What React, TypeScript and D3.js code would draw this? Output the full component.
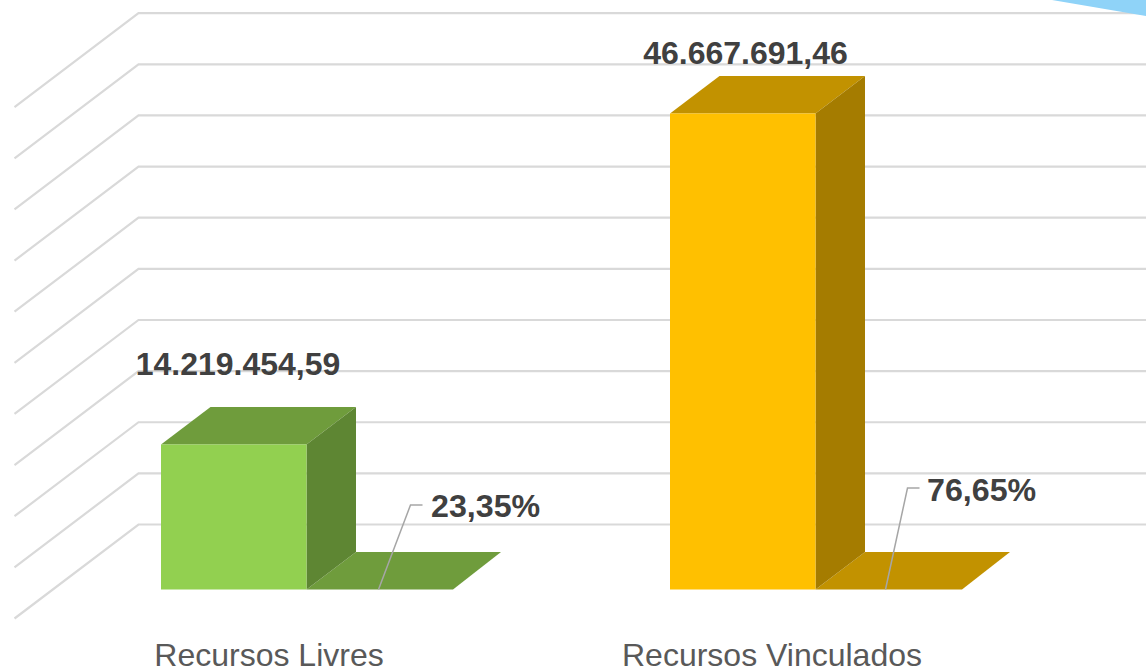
import React from "react";
import * as d3 from "d3";

const categories = ["Recursos Livres", "Recursos Vinculados"];
const values = [14219454.59, 46667691.46];
const valueLabels = ["14.219.454,59", "46.667.691,46"];
const percentLabels = ["23,35%", "76,65%"];
const frontColors = ["#92d050", "#ffc000"];
const topColors = ["#6f9c3c", "#c29200"];
const sideColors = ["#5e8633", "#a57c00"];
const gridLevels = d3.range(0, 11);

const W = 1146, H = 669;
const y = d3.scaleLinear().domain([0, 46667691.46]).range([589.5, 113.5]);
const gridY = d3.scaleLinear().domain([0, 10]).range([524.5, 13.2]);
const x = d3.scalePoint<number>().domain([0, 1]).range([161, 670]);
const poly = d3.line<[number, number]>();

const barW = 145.5, dx = 49.5, dy = 37.5;
const gridDx = 124, gridDy = 94, gridX = 138.5;

export default function App() {
  return (
    <svg width={W} height={H} viewBox={`0 0 ${W} ${H}`} style={{ position: "absolute", left: 0, top: 0, background: "#fff" }}>
      {gridLevels.map((g) => (
        <path key={g} fill="none" stroke="#d9d9d9" strokeWidth={2.2}
          d={poly([[gridX - gridDx, gridY(g) + gridDy], [gridX, gridY(g)], [W, gridY(g)]]) as string} />
      ))}
      <path d="M1052,0L1146,0L1146,16Z" fill="#8fd3f8" />
      {categories.map((c, i) => {
        const x0 = x(i) as number, x1 = x0 + barW;
        const y0 = y(0), yv = y(values[i]);
        const floorW = 145;
        const lead = i === 0
          ? [[x1 + 72, y0], [x1 + 104, 505], [x1 + 116, 505]] as [number, number][]
          : [[x1 + 70, y0], [x1 + 92, 488], [x1 + 104, 488]] as [number, number][];
        return (
          <g key={c}>
            <path fill={topColors[i]} d={poly([[x1, y0], [x1 + dx, y0 - dy], [x1 + dx + floorW, y0 - dy], [x1 + floorW + 1.5, y0]]) + "Z"} />
            <path fill={topColors[i]} d={poly([[x0, yv], [x0 + dx, yv - dy], [x1 + dx, yv - dy], [x1, yv]]) + "Z"} />
            <path fill={sideColors[i]} d={poly([[x1, yv], [x1 + dx, yv - dy], [x1 + dx, y0 - dy], [x1, y0]]) + "Z"} />
            <rect x={x0} y={yv} width={barW} height={y0 - yv} fill={frontColors[i]} />
            <path fill="none" stroke="#a6a6a6" strokeWidth={1.5} d={poly(lead) as string} />
            <text x={i === 0 ? 238 : 745.5} y={i === 0 ? 375 : 64} textAnchor="middle" fontFamily="Liberation Sans" fontWeight="700" fontSize={32} fill="#404040">{valueLabels[i]}</text>
            <text x={i === 0 ? 431 : 927} y={i === 0 ? 517 : 501} fontFamily="Liberation Sans" fontWeight="700" fontSize={32.2} fill="#404040">{percentLabels[i]}</text>
            <text x={i === 0 ? 269 : 772} y={665.5} textAnchor="middle" fontFamily="Liberation Sans" fontSize={32} fill="#595959">{c}</text>
          </g>
        );
      })}
    </svg>
  );
}
